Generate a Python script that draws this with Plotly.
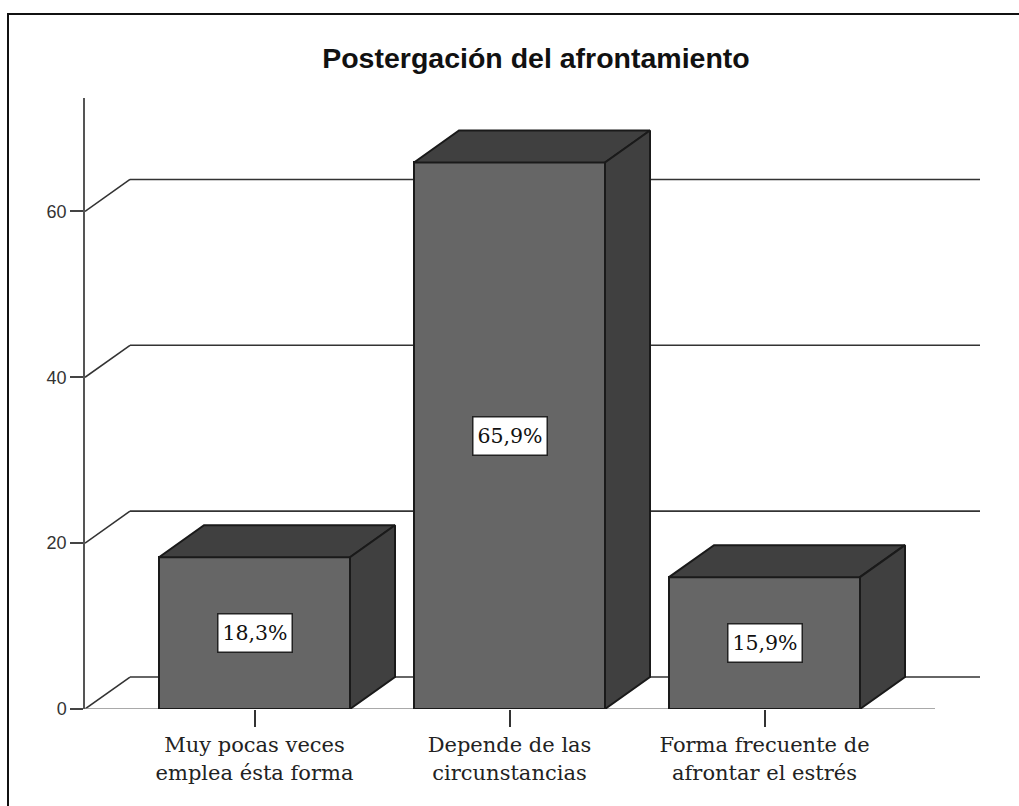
import plotly.graph_objects as go

categories = ["Muy pocas veces<br>emplea ésta forma", "Depende de las<br>circunstancias", "Forma frecuente de<br>afrontar el estrés"]
values = [18.3, 65.9, 15.9]
labels = ["18,3%", "65,9%", "15,9%"]
y_ticks = [0, 20, 40, 60]
title = "Postergación del afrontamiento"

W, H = 1019, 806
L, R, T, B = 85, 980, 98, 709.5     # plot box in page pixels
PX_X = 255.0                        # px per category
PX_Y = 8.3                          # px per value unit
BAR_W = 191 / PX_X
DX, DY = 45 / PX_X, 32 / PX_Y       # oblique depth, in data units
x0 = -(254.5 - L) / PX_X
x1 = x0 + (R - L) / PX_X
ymax = (B - T) / PX_Y
xs = list(range(len(values)))
floor_right = x0 + (935 - L) / PX_X

FRONT, DARK, EDGE = "#666666", "#404040", "#1a1a1a"
EW = 2

fig = go.Figure()
fig.add_trace(go.Bar(x=xs, y=values, width=BAR_W, marker=dict(color=FRONT, line=dict(color=EDGE, width=EW)),
                     hoverinfo="skip"))
for x, v in zip(xs, values):
    a, b = x - BAR_W / 2, x + BAR_W / 2
    # top face, side face
    fig.add_trace(go.Scatter(x=[a, b, b + DX, a + DX, a], y=[v, v, v + DY, v + DY, v], mode="lines",
                             fill="toself", fillcolor=DARK, line=dict(color=EDGE, width=EW), hoverinfo="skip"))
    fig.add_trace(go.Scatter(x=[b, b + DX, b + DX, b, b], y=[0, DY, v + DY, v, 0], mode="lines",
                             fill="toself", fillcolor=DARK, line=dict(color=EDGE, width=EW), hoverinfo="skip"))

shapes = []
for t in y_ticks:
    shapes.append(dict(type="line", layer="below", xref="x", yref="y", x0=x0, y0=t, x1=x0 + DX, y1=t + DY,
                       line=dict(color="#333333", width=1.6)))
    shapes.append(dict(type="line", layer="below", xref="x", yref="y", x0=x0 + DX, y0=t + DY, x1=x1, y1=t + DY,
                       line=dict(color="#333333", width=1.6)))
shapes.append(dict(type="line", layer="below", xref="x", yref="y", x0=x0, y0=0, x1=floor_right, y1=0,
                   line=dict(color="#8c8c8c", width=1.6)))
# chart frame: its right and bottom edges fall outside the page
shapes.append(dict(type="rect", layer="below", xref="paper", yref="paper",
                   x0=(8 - L) / (R - L), x1=(1040 - L) / (R - L),
                   y0=(B - 830) / (B - T), y1=(B - 14) / (B - T),
                   line=dict(color="#111111", width=2)))

annotations = [dict(x=x, y=v / 2, text=s, showarrow=False, xref="x", yref="y",
                    font=dict(family="DejaVu Serif", size=20.5, color="#111111"),
                    bgcolor="white", bordercolor="#222222", borderwidth=1.5, borderpad=3,
                    width=67, height=31)
               for x, v, s in zip(xs, values, labels)]

fig.update_layout(
    width=W, height=H, autosize=False, showlegend=False,
    paper_bgcolor="white", plot_bgcolor="rgba(0,0,0,0)",
    margin=dict(l=L, r=W - R, t=T, b=H - B, pad=0),
    title=dict(text=title, x=536 / W, xanchor="center", y=1 - 58 / H, yanchor="middle",
               font=dict(family="Liberation Sans", size=28.5, color="#111111", weight="bold")),
    xaxis=dict(range=[x0, x1], tickmode="array", tickvals=xs, ticktext=categories, showgrid=False, zeroline=False,
               showline=False, ticks="outside", ticklen=17, tickwidth=2, tickcolor="#333333",
               tickfont=dict(family="DejaVu Serif", size=21, color="#222222")),
    yaxis=dict(range=[0, ymax], tickmode="array", tickvals=y_ticks, showgrid=False, zeroline=False,
               showline=True, linecolor="#555555", linewidth=1.5, ticks="outside", ticklen=13, tickwidth=2,
               tickcolor="#444444", tickfont=dict(family="Liberation Sans", size=18, color="#333333")),
    shapes=shapes, annotations=annotations, bargap=0,
)
fig.write_html("out.html", config={"displayModeBar": False},
               post_script="document.body.style.margin='0';document.documentElement.style.overflow='hidden';")
